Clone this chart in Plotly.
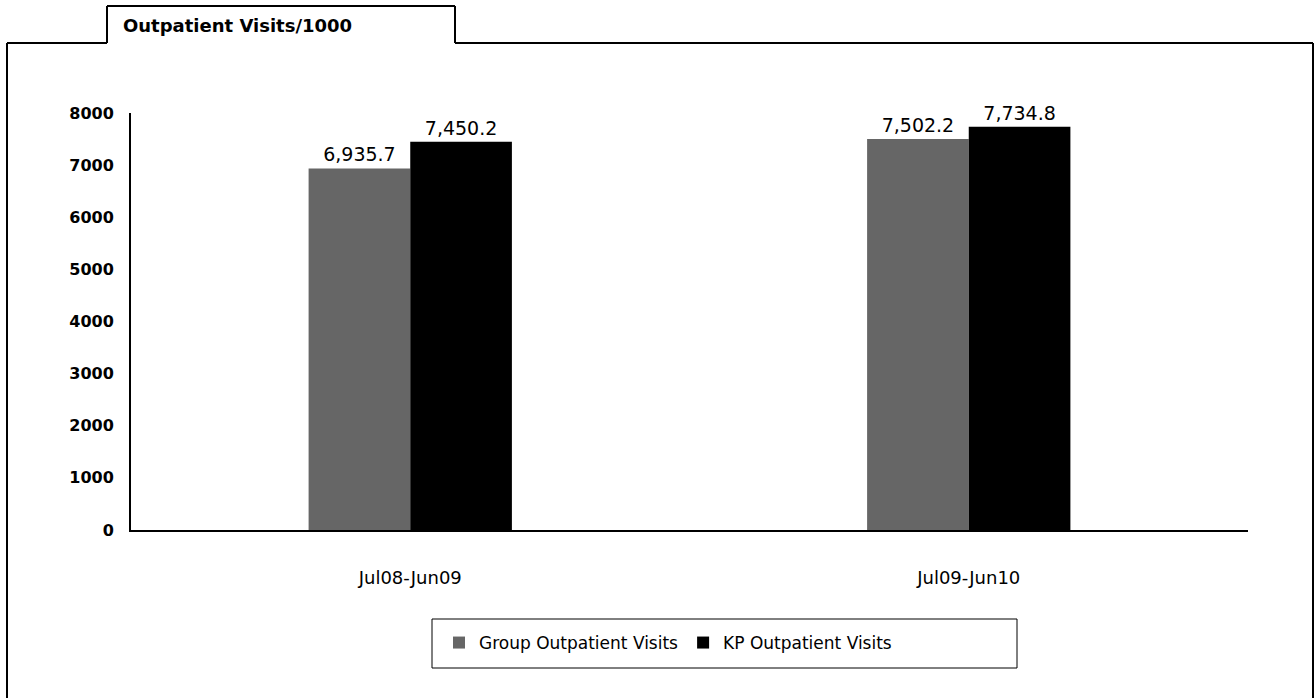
import plotly.graph_objects as go

categories = ["Jul08-Jun09", "Jul09-Jun10"]
group_visits = [6935.7, 7502.2]
kp_visits = [7450.2, 7734.8]
series_names = ["Group Outpatient Visits", "KP Outpatient Visits"]
y_ticks = [0, 1000, 2000, 3000, 4000, 5000, 6000, 7000, 8000]

W, H = 1315, 698
L, R, T, B = 131, 1248, 113, 530  # plot area in pixel coordinates
FONT = "DejaVu Sans"

def fmt(v):
    return f"{v:,.1f}"

fig = go.Figure()
fig.add_trace(go.Bar(
    x=categories, y=group_visits, name=series_names[0],
    marker=dict(color="#666666", line=dict(width=0)),
    text=[fmt(v) for v in group_visits], textposition="outside",
    textfont=dict(family=FONT, size=19, color="black"), cliponaxis=False,
))
fig.add_trace(go.Bar(
    x=categories, y=kp_visits, name=series_names[1],
    marker=dict(color="#000000", line=dict(width=0)),
    text=[fmt(v) for v in kp_visits], textposition="outside",
    textfont=dict(family=FONT, size=19, color="black"), cliponaxis=False,
))

def px(x):
    return (x - L) / (R - L)

def py(y):
    return (B - y) / (B - T)

frame = [
    (7, 43, 7, 720),
    (7, 43, 107, 43),
    (107, 43, 107, 6),
    (107, 6, 455, 6),
    (455, 6, 455, 43),
    (455, 43, 1313, 43),
    (1313, 43, 1313, 720),
]
shapes = []
for x0, y0, x1, y1 in frame:
    shapes.append(dict(type="line", xref="paper", yref="paper",
                       x0=px(x0), y0=py(y0), x1=px(x1), y1=py(y1),
                       line=dict(color="black", width=2)))
# legend box
shapes.append(dict(type="rect", xref="paper", yref="paper",
                   x0=px(432), y0=py(619), x1=px(1017), y1=py(668),
                   line=dict(color="black", width=1), fillcolor="rgba(0,0,0,0)"))

fig.update_layout(
    width=W, height=H,
    margin=dict(l=L, r=W - R, t=T, b=H - B, autoexpand=False),
    paper_bgcolor="white", plot_bgcolor="white",
    barmode="group", bargap=0.636, bargroupgap=0,
    font=dict(family=FONT, color="black"),
    showlegend=True,
    legend=dict(orientation="h", x=px(439), y=py(643), xanchor="left", yanchor="middle",
                borderwidth=0, bgcolor="rgba(0,0,0,0)",
                font=dict(family=FONT, size=17, color="black")),
    xaxis=dict(showline=True, linecolor="black", linewidth=2, ticks="",
               tickfont=dict(family=FONT, size=18, color="black"), showgrid=False,
               ticklabelstandoff=30),
    yaxis=dict(range=[0, 8000], tickvals=y_ticks, showline=True, linecolor="black",
               linewidth=2, ticks="", showgrid=False, zeroline=False,
               tickfont=dict(family=FONT, size=16, color="black", weight="bold"),
               ticklabelstandoff=12),
    shapes=shapes,
    annotations=[dict(text="<b>Outpatient Visits/1000</b>", xref="paper", yref="paper",
                      x=px(121), y=py(26), xanchor="left", yanchor="middle",
                      showarrow=False, font=dict(family=FONT, size=18, color="black"))],
)

fig.write_html(
    "out.html",
    config={"displayModeBar": False},
    post_script="document.body.style.margin='0';document.body.style.overflow='hidden';",
)
